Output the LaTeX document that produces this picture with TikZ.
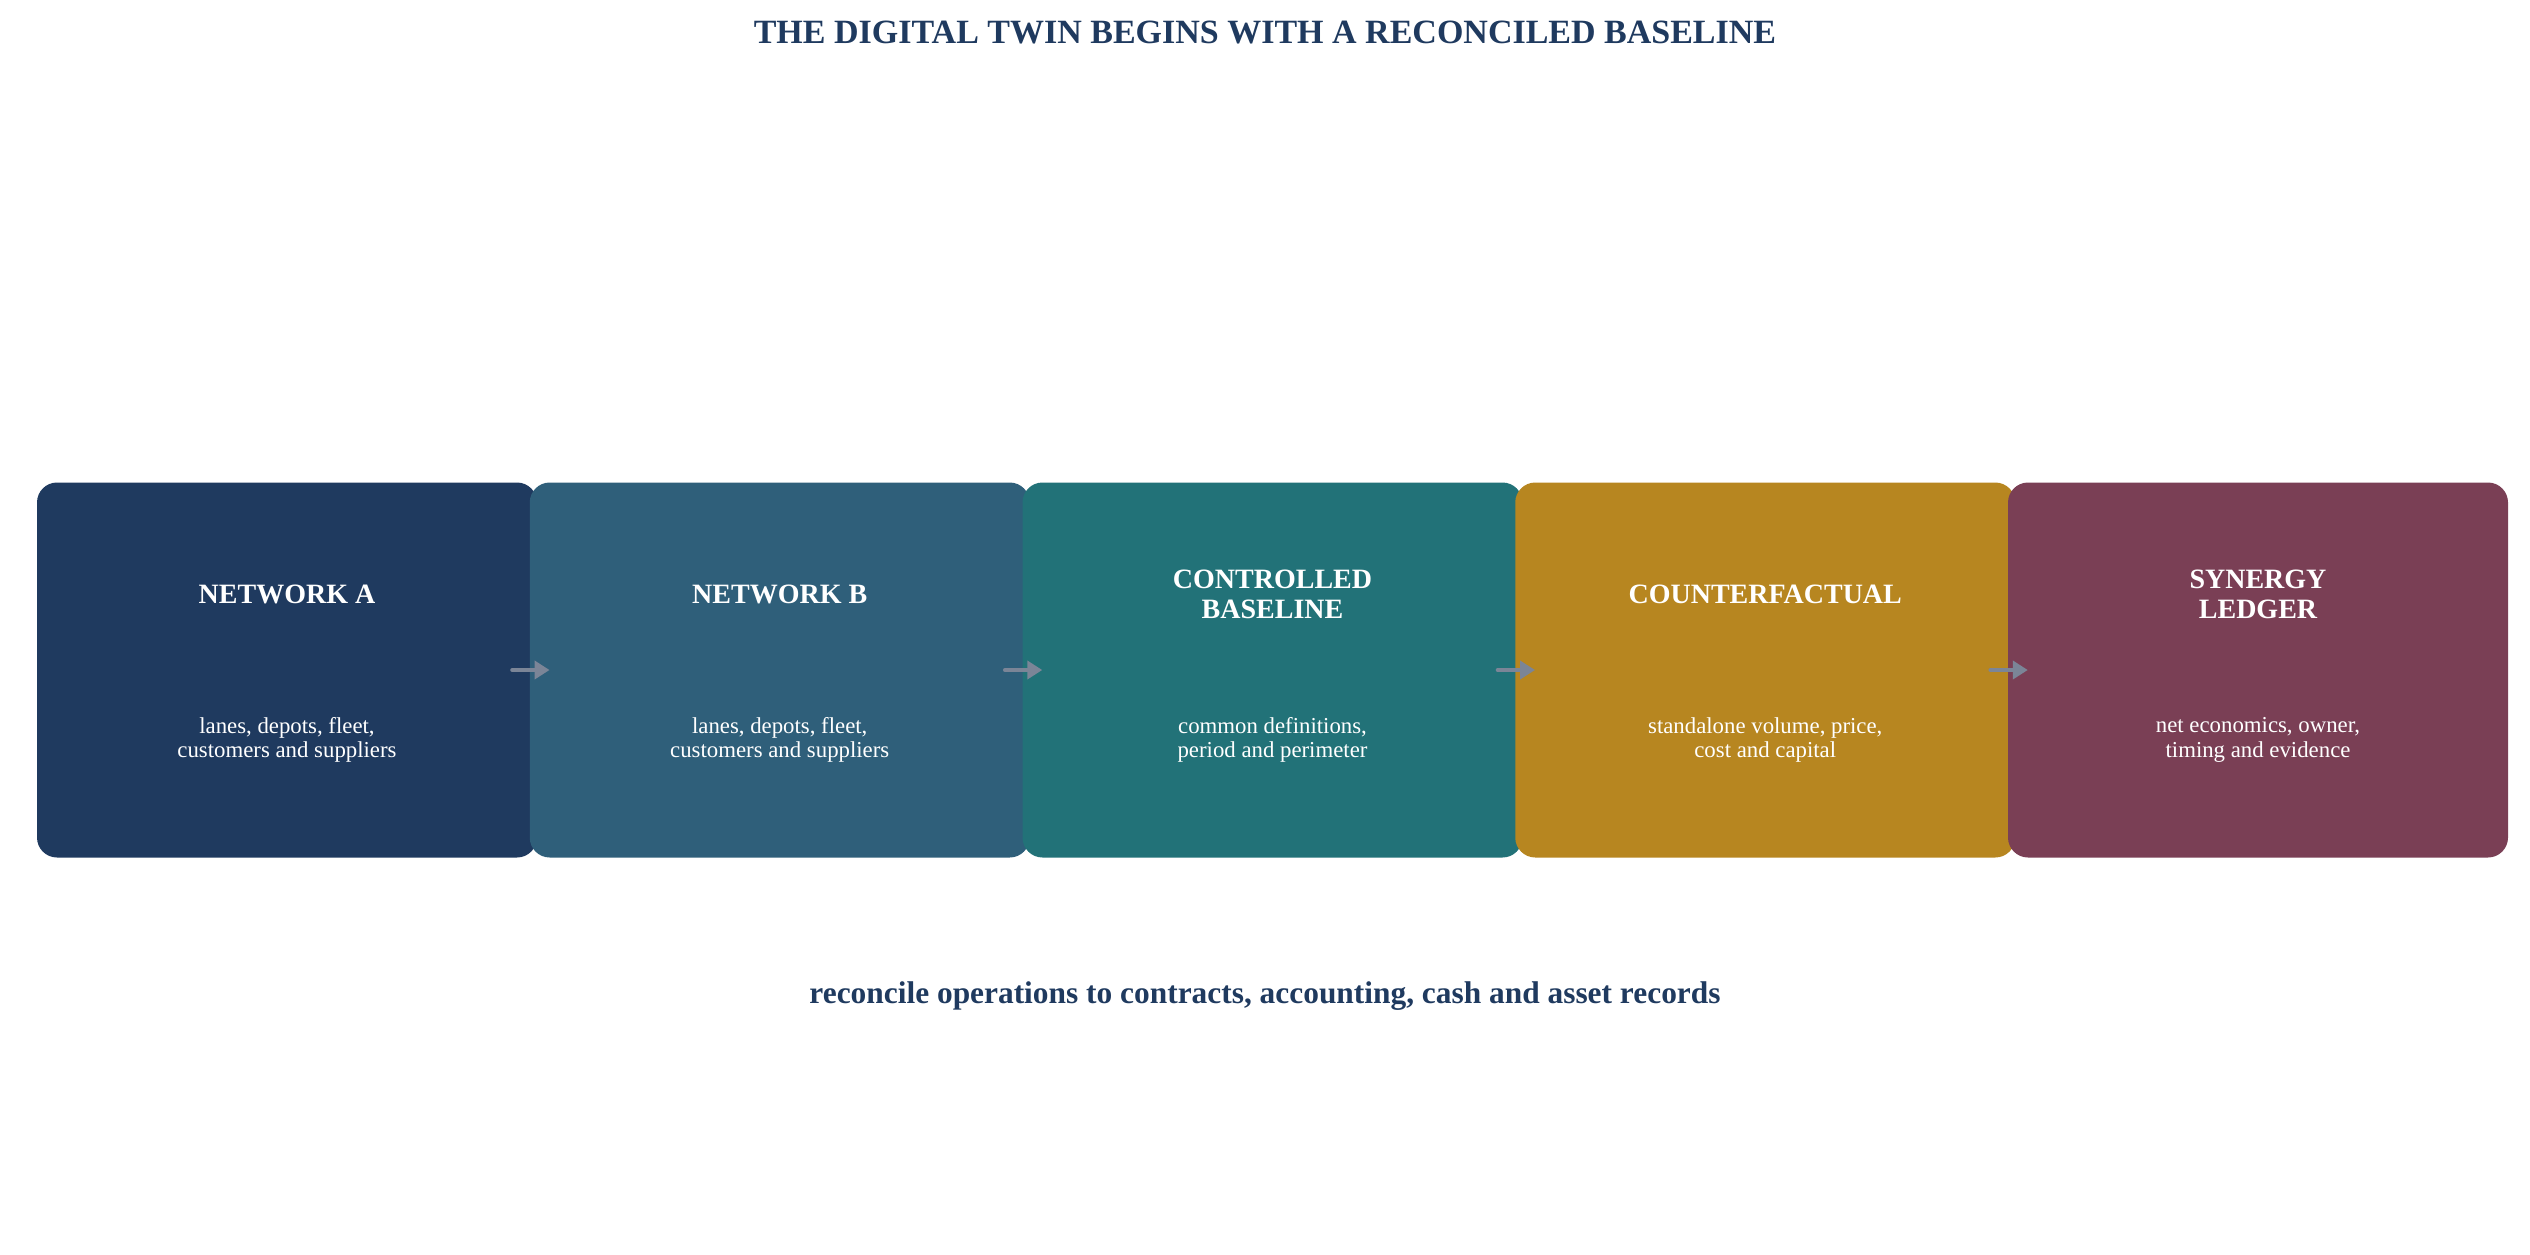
\documentclass[tikz,border=0pt]{standalone}
\usepackage{fontspec}
\setmainfont{Liberation Serif}
\usetikzlibrary{arrows.meta}
\definecolor{navy}{HTML}{1F3A5F}
\definecolor{cA}{HTML}{1F3A5F}
\definecolor{cB}{HTML}{2F5F7A}
\definecolor{cC}{HTML}{227278}
\definecolor{cD}{HTML}{B78620}
\definecolor{cE}{HTML}{7A3F55}
\definecolor{arrowgray}{HTML}{7B8597}
\begin{document}
\begin{tikzpicture}[x=1pt,y=-1pt,
  box/.style={rounded corners=20pt, minimum width=500pt, minimum height=375pt, inner sep=0pt, draw=none},
  head/.style={text=white, font=\fontsize{28}{30}\selectfont\bfseries, align=center, inner sep=0pt},
  body/.style={text=white, font=\fontsize{22.8}{24.5}\selectfont, align=center, inner sep=0pt},
  ttl/.style={text=navy, font=\fontsize{34}{38}\selectfont\bfseries, inner sep=0pt, anchor=base},
  foot/.style={text=navy, font=\fontsize{31.4}{34}\selectfont\bfseries, inner sep=0pt, anchor=base},
  arr/.style={draw=arrowgray, line width=4pt, line cap=round, -{Triangle[length=15pt,width=18pt]}}]
\useasboundingbox (0,0) rectangle (2530,1254);

\node[ttl] (title) at (1265,43) {THE DIGITAL TWIN BEGINS WITH A RECONCILED BASELINE};

\node[box, fill=cA] (a) at (287,670) {};
\node[box, fill=cB] (b) at (779.75,670) {};
\node[box, fill=cC] (c) at (1272.5,670) {};
\node[box, fill=cD] (d) at (1765.25,670) {};
\node[box, fill=cE] (e) at (2258,670) {};

\node[head] (ah) at (287,594) {NETWORK A};
\node[body] (ab) at (287,740) {lanes, depots, fleet,\\customers and suppliers};
\node[head] (bh) at (779.75,594) {NETWORK B};
\node[body] (bb) at (779.75,740) {lanes, depots, fleet,\\customers and suppliers};
\node[head] (ch) at (1272.5,594) {CONTROLLED\\BASELINE};
\node[body] (cb) at (1272.5,740) {common definitions,\\period and perimeter};
\node[head] (dh) at (1765.25,594) {COUNTERFACTUAL};
\node[body] (db) at (1765.25,740) {standalone volume, price,\\cost and capital};
\node[head] (eh) at (2258,594) {SYNERGY\\LEDGER};
\node[body] (eb) at (2258,740) {net economics, owner,\\timing and evidence};

\draw[arr] ([xshift=-25pt]a.east) -- ([xshift=20pt]b.west);
\draw[arr] ([xshift=-25pt]b.east) -- ([xshift=20pt]c.west);
\draw[arr] ([xshift=-25pt]c.east) -- ([xshift=20pt]d.west);
\draw[arr] ([xshift=-25pt]d.east) -- ([xshift=20pt]e.west);

\node[foot] (footer) at (1265,1003) {reconcile operations to contracts, accounting, cash and asset records};
\end{tikzpicture}
\end{document}
